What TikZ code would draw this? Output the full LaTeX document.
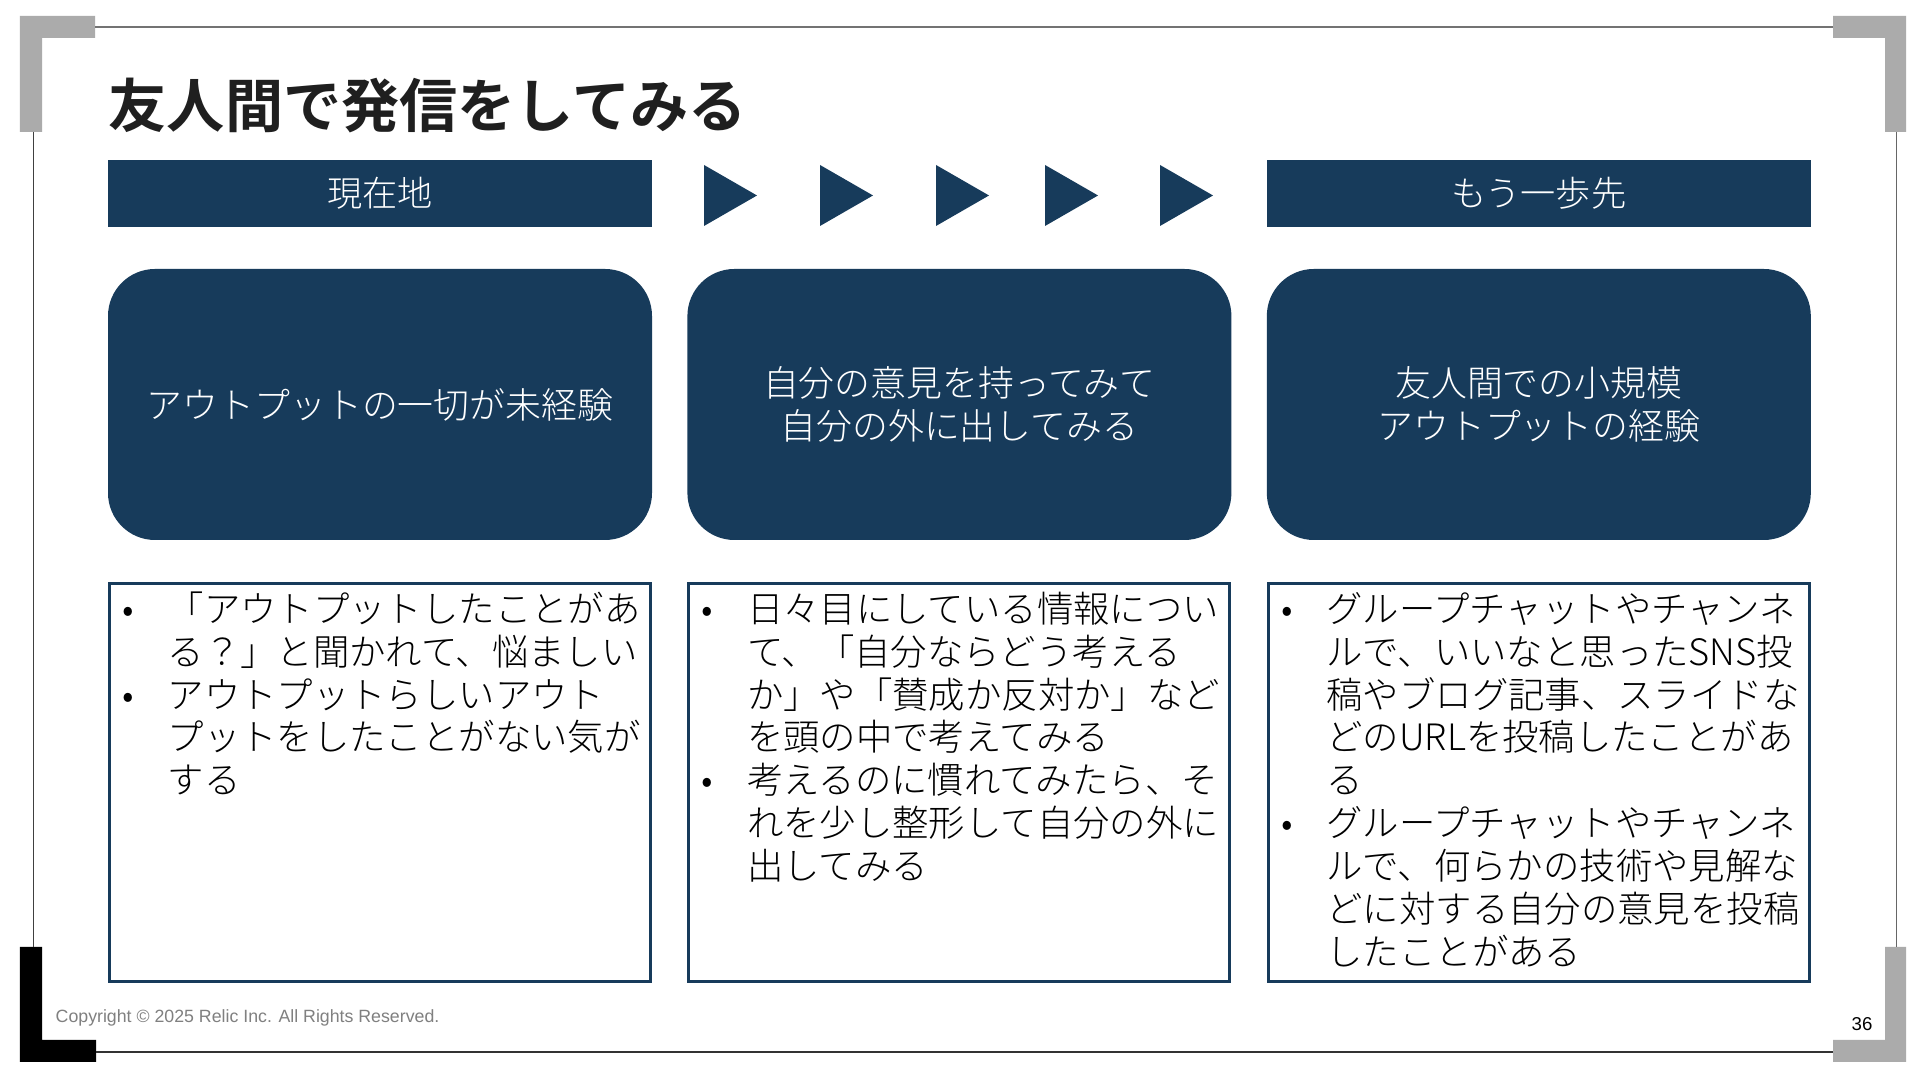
\documentclass[tikz,border=0pt]{standalone}
\usepackage{fontspec}
\IfFontExistsTF{Noto Sans CJK JP Light}
  {\setmainfont{Noto Sans CJK JP Light}[BoldFont={Noto Sans CJK JP Bold}]}
  {\setmainfont{Noto Sans CJK JP}}
\newfontfamily\footfont{Liberation Sans}
\usetikzlibrary{positioning}

\definecolor{relicnavy}{HTML}{173B5B}
\definecolor{framegray}{HTML}{ABABAB}
\definecolor{footgray}{HTML}{808080}

% bullet list for the note boxes
\newenvironment{dotlist}{\begin{list}{\makebox[0pt]{\textbullet}}{%
  \setlength\leftmargin{0.59cm}\setlength\labelwidth{0pt}%
  \setlength\labelsep{0.395cm}\setlength\itemsep{0pt}%
  \setlength\topsep{0pt}\setlength\parsep{0pt}\setlength\partopsep{0pt}}}%
  {\end{list}}

\tikzset{
  headbar/.style={fill=relicnavy, text=white, minimum width=5.44cm,
    minimum height=0.67cm, inner sep=0pt, font=\fontsize{10}{12}\selectfont},
  stagebox/.style={fill=relicnavy, rounded corners=0.47cm, text=white,
    minimum width=5.44cm, minimum height=2.71cm, align=center,
    font=\fontsize{10.2}{12.2}\selectfont},
  notebox/.style={draw=relicnavy, line width=0.03cm, minimum width=5.41cm,
    minimum height=3.98cm, inner sep=0pt},
  notetext/.style={text width=5.35cm, inner sep=0pt, align=left,
    font=\fontsize{10.35}{12.2}\selectfont},
}

\begin{document}
\begin{tikzpicture}
	%%%%% FRAME %%%%%
	\fill[white] (0, 0) rectangle (19.2, 10.8);
	\useasboundingbox (0, 0) rectangle (19.2, 10.8);
	
	\fill[framegray] (0.20, 10.64) -- (0.95, 10.64) -- (0.95, 10.42) -- (0.42, 10.42) -- (0.42, 9.48) -- (0.20, 9.48) -- cycle;
	\fill[framegray] (19.06, 10.64) -- (18.33, 10.64) -- (18.33, 10.42) -- (18.85, 10.42) -- (18.85, 9.48) -- (19.06, 9.48) -- cycle;
	\fill[black] (0.20, 1.33) -- (0.42, 1.33) -- (0.42, 0.40) -- (0.96, 0.40) -- (0.96, 0.18) -- (0.20, 0.18) -- cycle;
	\fill[framegray] (19.06, 1.33) -- (18.85, 1.33) -- (18.85, 0.40) -- (18.33, 0.40) -- (18.33, 0.18) -- (19.06, 0.18) -- cycle;
	
	\draw[black!55, line width=0.012cm] (0.95, 10.53) -- (18.33, 10.53);
	\draw[black!80, line width=0.012cm] (0.96, 0.28) -- (18.33, 0.28);
	\draw[black!75, line width=0.01cm] (0.33, 9.48) -- (0.33, 1.33);
	\draw[black!60, line width=0.01cm] (18.96, 9.48) -- (18.96, 1.33);
	
	%%%%% TITLE %%%%%
	\node[anchor=west, inner sep=0pt, text=black!88, font=\fontsize{16.55}{19}\selectfont\bfseries] (title) at (1.08, 9.74) {友人間で発信をしてみる};
	
	%%%%% STAGES %%%%%
	\node[stagebox] (now) at (3.80, 6.755) {アウトプットの一切が未経験};
	\node[stagebox, right=0.34cm of now] (try) {自分の意見を持ってみて\\自分の外に出してみる};
	\node[stagebox, right=0.34cm of try] (next) {友人間での小規模\\アウトプットの経験};
	
	\node[headbar, above=0.41cm of now] (nowhead) {現在地};
	\node[headbar, above=0.41cm of next] (nexthead) {もう一歩先};
	
	\foreach \x in {7.04, 8.20, 9.36, 10.45, 11.60}
		\fill[relicnavy] (\x, 9.15) -- (\x+0.53, 8.845) -- (\x, 8.54) -- cycle;
	
	%%%%% NOTES %%%%%
	\node[notebox, below=0.41cm of now] (nownote) {};
	\node[notebox, below=0.41cm of try] (trynote) {};
	\node[notebox, below=0.41cm of next] (nextnote) {};
	
	\node[notetext, below right=-0.03cm and 0cm of nownote.north west] (nowlist) {%
		\begin{dotlist}
		\item 「アウトプットしたことがあ\\る？」と聞かれて、悩ましい
		\item アウトプットらしいアウト\\プットをしたことがない気が\\する
		\end{dotlist}};
	\node[notetext, below right=-0.03cm and 0cm of trynote.north west] (trylist) {%
		\begin{dotlist}
		\item 日々目にしている情報につい\\て、「自分ならどう考える\\か」や「賛成か反対か」など\\を頭の中で考えてみる
		\item 考えるのに慣れてみたら、そ\\れを少し整形して自分の外に\\出してみる
		\end{dotlist}};
	\node[notetext, below right=-0.03cm and 0cm of nextnote.north west] (nextlist) {%
		\begin{dotlist}
		\item グループチャットやチャンネ\\ルで、いいなと思ったSNS投\\稿やブログ記事、スライドな\\どのURLを投稿したことがあ\\る
		\item グループチャットやチャンネ\\ルで、何らかの技術や見解な\\どに対する自分の意見を投稿\\したことがある
		\end{dotlist}};
	
	%%%%% FOOTER %%%%%
	\node[anchor=west, inner sep=0pt, text=footgray, font=\footfont\fontsize{5.05}{6}\selectfont] (copy) at (0.55, 0.62) {Copyright © 2025 Relic Inc. All Rights Reserved.};
	\node[inner sep=0pt, font=\footfont\fontsize{5.3}{6}\selectfont] (page) at (18.62, 0.56) {36};
\end{tikzpicture}
\end{document}
